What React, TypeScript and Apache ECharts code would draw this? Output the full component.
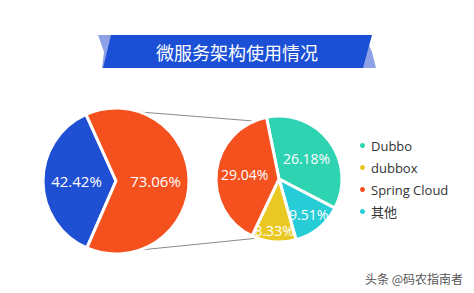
import React, { useEffect, useRef } from "react";
import * as echarts from "echarts";

const title = "微服务架构使用情况";
const outerNames = ["其他框架", "微服务框架"];
const outerValues = [42.42, 73.06];
const innerNames = ["Dubbo", "其他", "dubbox", "Spring Cloud"];
const innerValues = [26.18, 9.51, 8.33, 29.04];
const legendOrder = ["Dubbo", "dubbox", "Spring Cloud", "其他"];
const watermark = "头条 @码农指南者";

const outerColors = ["#1f4fd3", "#f4511f"];
const innerColors = ["#2ed3b2", "#27cdd6", "#e9c823", "#f4511f"];
// label nudges for the narrow slices (style only)
const innerLabelShift: Record<string, [number, number]> = {
  "其他": [8, 9],
  dubbox: [-2, 17],
};

export default function App() {
  const ref = useRef<HTMLDivElement>(null);
  useEffect(() => {
    if (!ref.current) return;
    const chart = echarts.init(ref.current, null, { renderer: "svg" });
    const font = "'Open Sans', 'Noto Sans CJK SC', sans-serif";
    chart.setOption({
      animation: false,
      backgroundColor: "#ffffff",
      legend: {
        data: legendOrder,
        orient: "vertical",
        left: 353,
        top: 134,
        icon: "circle",
        itemWidth: 7,
        itemHeight: 7,
        itemGap: 9,
        textStyle: { fontSize: 13, color: "#333", fontFamily: font },
      },
      graphic: [
        {
          type: "polygon",
          shape: { points: [[98, 35], [112, 35], [105, 68], [102, 68], [104, 52]] },
          style: { fill: "#8da2e6" },
        },
        {
          type: "polygon",
          shape: { points: [[362, 68], [376, 68], [372, 52], [369, 45]] },
          style: { fill: "#8da2e6" },
        },
        {
          type: "polygon",
          shape: { points: [[111, 35], [372, 35], [363, 68], [103, 68]] },
          style: { fill: "#1b50d6" },
        },
        {
          type: "text",
          x: 237,
          y: 52,
          style: {
            text: title,
            fill: "#ffffff",
            font: "18px 'Noto Sans CJK SC', sans-serif",
            align: "center",
            verticalAlign: "middle",
          },
        },
        {
          type: "line",
          shape: { x1: 140, y1: 112, x2: 266, y2: 122 },
          style: { stroke: "#8a8a8a", lineWidth: 1 },
        },
        {
          type: "line",
          shape: { x1: 140, y1: 250, x2: 259, y2: 238 },
          style: { stroke: "#8a8a8a", lineWidth: 1 },
        },
        {
          type: "text",
          x: 414,
          y: 278,
          style: {
            text: watermark,
            fill: "#555",
            font: "12px 'Noto Sans CJK SC', sans-serif",
            align: "center",
            verticalAlign: "middle",
          },
        },
      ],
      series: [
        {
          type: "pie",
          center: [116, 181],
          radius: 73,
          startAngle: 246.5,
          clockwise: true,
          silent: true,
          itemStyle: { borderColor: "#fff", borderWidth: 3 },
          label: {
            position: "inside",
            formatter: "{c}%",
            color: "#fff",
            fontSize: 15,
            fontFamily: font,
          },
          labelLine: { show: false },
          data: outerNames.map((n, i) => ({
            name: n,
            value: outerValues[i],
            itemStyle: { color: outerColors[i] },
          })),
        },
        {
          type: "pie",
          center: [279, 179],
          radius: 63,
          startAngle: 101.5,
          clockwise: true,
          silent: true,
          itemStyle: { borderColor: "#fff", borderWidth: 3 },
          label: {
            position: "inside",
            formatter: "{c}%",
            color: "#fff",
            fontSize: 14,
            fontFamily: font,
          },
          labelLine: { show: false },
          labelLayout: (p: any) => {
            const s = innerLabelShift[innerNames[p.dataIndex]];
            return s ? { dx: s[0], dy: s[1] } : {};
          },
          data: innerNames.map((n, i) => ({
            name: n,
            value: innerValues[i],
            itemStyle: { color: innerColors[i] },
          })),
        },
      ],
    });
    return () => chart.dispose();
  }, []);
  return (
    <div
      ref={ref}
      style={{ position: "fixed", left: 0, top: 0, width: 474, height: 293 }}
    />
  );
}
